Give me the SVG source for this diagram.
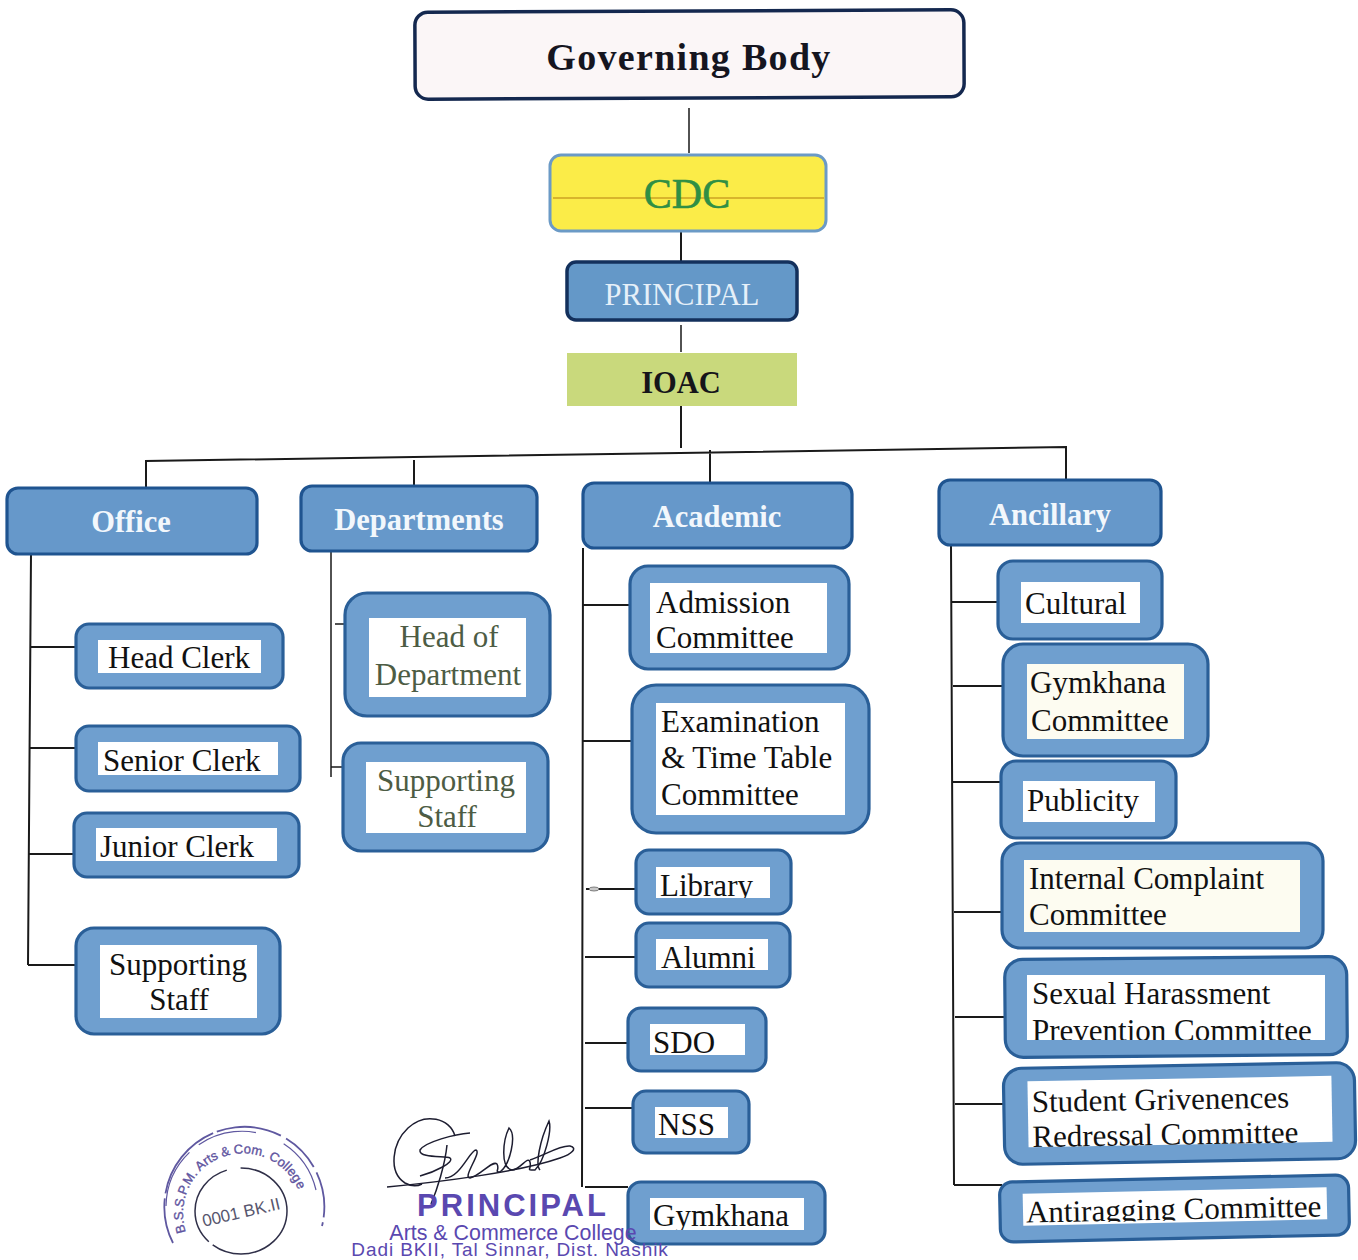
<svg xmlns="http://www.w3.org/2000/svg" width="1358" height="1260" viewBox="0 0 1358 1260">
<style>
.bg{fill:#fff}
.o{fill:#6f9fcf;stroke:#2a5f98;stroke-width:3.2}
.hb{fill:#6698ca;stroke:#1f5490;stroke-width:3.2}
.i{fill:#fff}
.iv{fill:#fdfcf1}
.t{font-family:"Liberation Serif","Times New Roman",serif;font-size:31px;fill:#111}
.h{font-family:"Liberation Serif","Times New Roman",serif;font-size:30.5px;font-weight:bold;fill:#f2f7fc;text-anchor:middle}
.c{text-anchor:middle}
.g{fill:#4d5c44}
.l{fill:none;stroke:#1a1a1a;stroke-width:2}
.s{fill:none;stroke:#5f58a0}
.p{font-family:"Liberation Sans",Arial,sans-serif;fill:#5a48b0}
</style>
<defs>
<clipPath id="c-lib"><rect x="656" y="866" width="114" height="32"/></clipPath>
<clipPath id="c-gym"><rect x="648" y="1198" width="156" height="32"/></clipPath>
<clipPath id="c-sex"><rect x="1027" y="975" width="298" height="65"/></clipPath>
<clipPath id="c-anti"><rect x="1023" y="1190" width="304" height="32"/></clipPath>
</defs>
<rect class="bg" width="1358" height="1260"/>
<g id="connectors">
<path class="l" style="stroke-width:1.5" d="M689 108V153M681 325V352"/>
<path class="l" d="M681 231V261M681 406V448M146 487V461L680 453L1066 447V480M414 460V486M710 450V483"/>
<path class="l" d="M31 554L28 965M31 647H76M29 748H76M29 854H74M28 965H76"/>
<path class="l" style="stroke-width:1.5" d="M331 551V777M335 624H345M331 767H343"/>
<path class="l" d="M583 548L582 1187M583 605H630M583 741H632M586 889H636M585 957H636M585 1043H628M585 1108H633M585 1187H628"/>
<ellipse cx="594" cy="889" rx="5" ry="2" fill="#c8c8c8" stroke="#666" stroke-width=".8"/>
<path class="l" d="M951 546L954 1185M951 602H998M953 686H1003M953 782H1001M954 912H1002M955 1017H1005M955 1104H1004M954 1185H1002"/>
</g>
<g id="governing-body"><rect x="415" y="11" width="549" height="87" rx="13" fill="#fbf6f7" stroke="#14284f" stroke-width="3.5" transform="rotate(-.25 689 54)"/><text x="689" y="70" text-anchor="middle" font-family="Liberation Serif,serif" font-size="38" font-weight="bold" letter-spacing="1.3" fill="#15151f">Governing Body</text></g>
<g id="cdc"><rect x="550" y="155" width="276" height="76" rx="11" fill="#fbec48" stroke="#6b9ac6" stroke-width="3"/><path d="M553 198H824" stroke="#d8b52c" stroke-width="2"/><text x="687" y="208" text-anchor="middle" font-family="Liberation Serif,serif" font-size="42" stroke="#2f8f44" stroke-width=".6" fill="#2f8f44">CDC</text></g>
<g id="principal"><rect x="567" y="262" width="230" height="58" rx="9" fill="#6498c8" stroke="#13305c" stroke-width="3.5"/><text x="682" y="305" text-anchor="middle" font-family="Liberation Serif,serif" font-size="30.5" fill="#e6f0f9">PRINCIPAL</text></g>
<g id="ioac"><rect x="567" y="353" width="230" height="53" fill="#c9d97c"/><text x="681" y="393" text-anchor="middle" font-family="Liberation Serif,serif" font-size="30.5" font-weight="bold" fill="#15151a">IOAC</text></g>
<g id="office"><rect class="hb" x="7" y="488" width="250" height="66" rx="11"/><text class="h" x="131" y="532">Office</text></g>
<g id="departments"><rect class="hb" x="301" y="486" width="236" height="65" rx="11"/><text class="h" x="419" y="530">Departments</text></g>
<g id="academic"><rect class="hb" x="583" y="483" width="269" height="65" rx="11"/><text class="h" x="717" y="527">Academic</text></g>
<g id="ancillary"><rect class="hb" x="939" y="480" width="222" height="65" rx="11"/><text class="h" x="1050" y="525">Ancillary</text></g>
<g id="head-clerk"><rect class="o" x="76" y="624" width="207" height="64" rx="13"/><rect class="i" x="98" y="640" width="163" height="33"/><text class="t" x="108" y="668">Head Clerk</text></g>
<g id="senior-clerk"><rect class="o" x="76" y="726" width="224" height="65" rx="13"/><rect class="i" x="98" y="742" width="180" height="33"/><text class="t" x="103" y="771">Senior Clerk</text></g>
<g id="junior-clerk"><rect class="o" x="74" y="813" width="225" height="64" rx="13"/><rect class="i" x="96" y="828" width="181" height="33"/><text class="t" x="100" y="857">Junior Clerk</text></g>
<g id="office-supporting-staff"><rect class="o" x="76" y="928" width="204" height="106" rx="18"/><rect class="i" x="100" y="945" width="157" height="73"/><text class="t c" x="178" y="975">Supporting</text><text class="t c" x="179" y="1010">Staff</text></g>
<g id="head-of-department"><rect class="o" x="345" y="593" width="205" height="123" rx="22"/><rect class="i" x="369" y="618" width="157" height="79"/><text class="t c g" x="449" y="647">Head of</text><text class="t c g" x="448" y="685">Department</text></g>
<g id="dept-supporting-staff"><rect class="o" x="343" y="743" width="205" height="108" rx="18"/><rect class="i" x="366" y="762" width="160" height="71"/><text class="t c g" x="446" y="791">Supporting</text><text class="t c g" x="447" y="827">Staff</text></g>
<g id="admission"><rect class="o" x="630" y="566" width="219" height="103" rx="18"/><rect class="i" x="650" y="583" width="177" height="70"/><text class="t" x="656" y="613">Admission</text><text class="t" x="656" y="648">Committee</text></g>
<g id="examination"><rect class="o" x="632" y="685" width="237" height="148" rx="24"/><rect class="i" x="656" y="703" width="189" height="112"/><text class="t" x="661" y="732">Examination</text><text class="t" x="661" y="768">&amp; Time Table</text><text class="t" x="661" y="805">Committee</text></g>
<g id="library"><rect class="o" x="636" y="850" width="155" height="64" rx="13"/><rect class="i" x="656" y="867" width="114" height="31"/><text class="t" x="660" y="896" clip-path="url(#c-lib)">Library</text></g>
<g id="alumni"><rect class="o" x="636" y="923" width="154" height="64" rx="13"/><rect class="i" x="656" y="939" width="112" height="31"/><text class="t" x="661" y="968">Alumni</text></g>
<g id="sdo"><rect class="o" x="628" y="1008" width="138" height="63" rx="13"/><rect class="i" x="650" y="1024" width="95" height="31"/><text class="t" x="653" y="1053">SDO</text></g>
<g id="nss"><rect class="o" x="633" y="1091" width="116" height="62" rx="13"/><rect class="i" x="655" y="1107" width="73" height="31"/><text class="t" x="658" y="1135">NSS</text></g>
<g id="academic-gymkhana"><rect class="o" x="628" y="1182" width="197" height="62" rx="13"/><rect class="i" x="650" y="1198" width="154" height="32"/><text class="t" x="653" y="1226" clip-path="url(#c-gym)">Gymkhana</text></g>
<g id="cultural"><rect class="o" x="998" y="561" width="164" height="78" rx="15"/><rect class="i" x="1021" y="582" width="119" height="41"/><text class="t" x="1025" y="614">Cultural</text></g>
<g id="gymkhana-committee"><rect class="o" x="1003" y="644" width="205" height="112" rx="20"/><rect class="iv" x="1027" y="664" width="157" height="75"/><text class="t" x="1030" y="693">Gymkhana</text><text class="t" x="1031" y="731">Committee</text></g>
<g id="publicity"><rect class="o" x="1001" y="761" width="175" height="77" rx="15"/><rect class="i" x="1023" y="781" width="132" height="41"/><text class="t" x="1027" y="811">Publicity</text></g>
<g id="internal-complaint"><rect class="o" x="1002" y="843" width="321" height="105" rx="18"/><rect class="iv" x="1024" y="860" width="276" height="72"/><text class="t" x="1029" y="889">Internal Complaint</text><text class="t" x="1029" y="925">Committee</text></g>
<g id="sexual-harassment"><rect class="o" x="1005" y="958" width="342" height="98" rx="18" transform="rotate(-.5 1176 1007)"/><rect class="i" x="1027" y="975" width="298" height="65"/><text class="t" x="1032" y="1004" clip-path="url(#c-sex)">Sexual Harassment</text><text class="t" x="1032" y="1041" clip-path="url(#c-sex)">Prevention Committee</text></g>
<g id="student-grievances" transform="translate(0 -2.5) rotate(-1 1180 1115)"><rect class="o" x="1004" y="1068" width="351" height="96" rx="18"/><rect class="i" x="1028" y="1081" width="304" height="66"/><text class="t" x="1032" y="1112">Student Grivenences</text><text class="t" x="1032" y="1147">Redressal Committee</text></g>
<g id="antiragging" transform="translate(0 -1.5) rotate(-1.2 1175 1211)"><rect class="o" x="1000" y="1180" width="349" height="60" rx="13"/><rect class="i" x="1023" y="1192" width="304" height="32"/><text class="t" x="1026" y="1221" clip-path="url(#c-anti)">Antiragging Committee</text></g>
<g id="stamp">
<path class="s" d="M173 1243A80 80 0 1 1 322 1226" stroke-width="1.8" stroke-dasharray="46 5 80 4 66 6 40 6"/>
<path class="s" d="M166 1206A76 76 0 0 1 316 1190" stroke-width="1.2" stroke-dasharray="60 12 60 30"/>
<ellipse cx="241" cy="1211" rx="46" ry="43" fill="none" stroke="#2f2f48" stroke-width="1.5" stroke-dasharray="100 5 90 14"/>
<path id="sa" d="M186 1232A60 60 0 1 1 303 1216" fill="none"/>
<text font-family="Liberation Sans,sans-serif" font-size="13" fill="#5f55a0" stroke="#5f55a0" stroke-width=".35"><textPath href="#sa">B.S.S.P.M. Arts &amp; Com. College</textPath></text>
<text x="241" y="1218" text-anchor="middle" font-family="Liberation Sans,sans-serif" font-size="17" fill="#57566e" transform="rotate(-13 241 1212)">0001 BK.II</text>
</g>
<g id="signature" fill="none" stroke="#1d1d30" stroke-width="1.5">
<path d="M455 1136C450 1118 425 1112 408 1128C392 1143 388 1172 405 1183C412 1187 418 1186 422 1184"/>
<path d="M470 1133C455 1134 425 1142 420 1150C418 1158 445 1156 450 1158C455 1162 435 1172 420 1176"/>
<path d="M447 1145C445 1165 437 1190 431 1204"/>
<path d="M445 1178C460 1178 470 1150 476 1150C482 1152 462 1178 470 1178C480 1176 492 1160 497 1164C500 1170 494 1172 500 1172C510 1165 517 1135 509 1128C503 1140 500 1168 512 1170C520 1170 528 1155 530 1162C532 1170 525 1170 535 1170C545 1160 552 1130 549 1121C540 1140 535 1165 540 1170"/>
<path d="M387 1187C440 1182 520 1172 560 1158C572 1154 578 1148 570 1146C560 1145 545 1155 530 1160"/>
</g>
<g id="principal-seal">
<text class="p" x="513" y="1216" text-anchor="middle" font-size="31" font-weight="bold" letter-spacing="3" fill="#7b6bc8">PRINCIPAL</text>
<text class="p" x="513" y="1240" text-anchor="middle" font-size="21.4" fill="#4a3f96">Arts &amp; Commerce College</text>
<text class="p" x="510" y="1256" text-anchor="middle" font-size="19" letter-spacing=".9" fill="#4a3f96">Dadi BKII, Tal Sinnar, Dist. Nashik</text>
</g>
</svg>
